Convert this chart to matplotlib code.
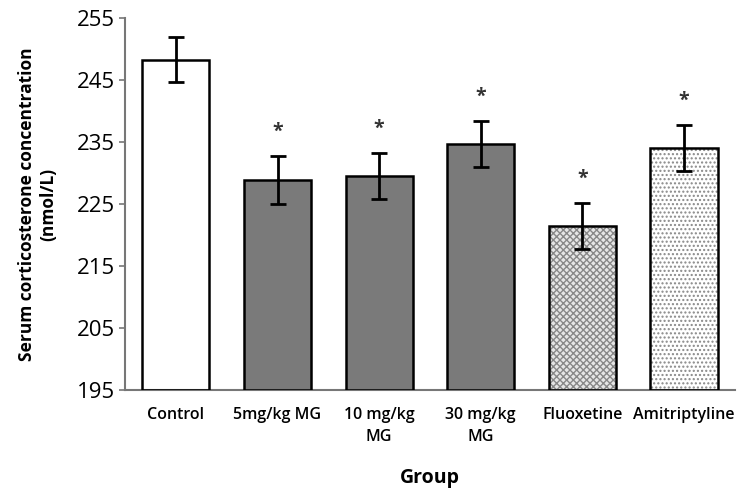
import matplotlib.pyplot as plt
import numpy as np

groups = ['Control', '5mg/kg MG', '10 mg/kg\nMG', '30 mg/kg\nMG', 'Fluoxetine', 'Amitriptyline']
means = [248.3, 228.9, 229.5, 234.7, 221.5, 234.1]
errs = [3.6, 3.9, 3.7, 3.7, 3.7, 3.7]
signif = [False, True, True, True, True, True]

plt.rcParams['font.family'] = ['Open Sans', 'DejaVu Sans']

fig = plt.figure(figsize=(7.4, 4.9), dpi=100)
ax = fig.add_axes([0.169, 0.204, 0.824, 0.759])

x = np.arange(len(groups))
w = 0.66
faces = ['white', '#7a7a7a', '#7a7a7a', '#7a7a7a', '#e6e6e6', 'white']
hatches = [None, None, None, None, 'xxxxx', '....']

for i in range(len(groups)):
    ax.bar(x[i], means[i] - 195, w, bottom=195, color=faces[i], edgecolor='#888888',
           hatch=hatches[i], linewidth=0, zorder=2)
    ax.bar(x[i], means[i] - 195, w, bottom=195, fill=False, edgecolor='black',
           linewidth=1.8, zorder=3)

ax.errorbar(x, means, yerr=errs, fmt='none', ecolor='black', elinewidth=2,
            capsize=6, capthick=2, zorder=4)

for i in range(len(groups)):
    if signif[i]:
        ax.text(x[i], means[i] + errs[i] + 2.3, '*', ha='center', va='bottom',
                fontsize=14, fontweight='bold', color='#333333')

ax.set_ylim(195, 255)
ax.set_xlim(-0.5, len(groups) - 0.5)
ax.set_yticks(np.arange(195, 256, 10))
ax.tick_params(axis='y', labelsize=16, length=4, color='#777777', width=1.2)
ax.set_xticks(x)
ax.set_xticklabels(groups, fontsize=11.5, fontweight='semibold', linespacing=1.55)
ax.tick_params(axis='x', length=0, pad=12)

for s in ['top', 'right']:
    ax.spines[s].set_visible(False)
for s in ['left', 'bottom']:
    ax.spines[s].set_color('#777777')
    ax.spines[s].set_linewidth(1.5)

ax.set_ylabel('Serum corticosterone concentration\n(nmol/L)', fontsize=12.5,
              fontweight='bold', labelpad=14)
ax.set_xlabel('Group', fontsize=14, fontweight='bold', labelpad=16)

fig.savefig('out.png', dpi=100)
